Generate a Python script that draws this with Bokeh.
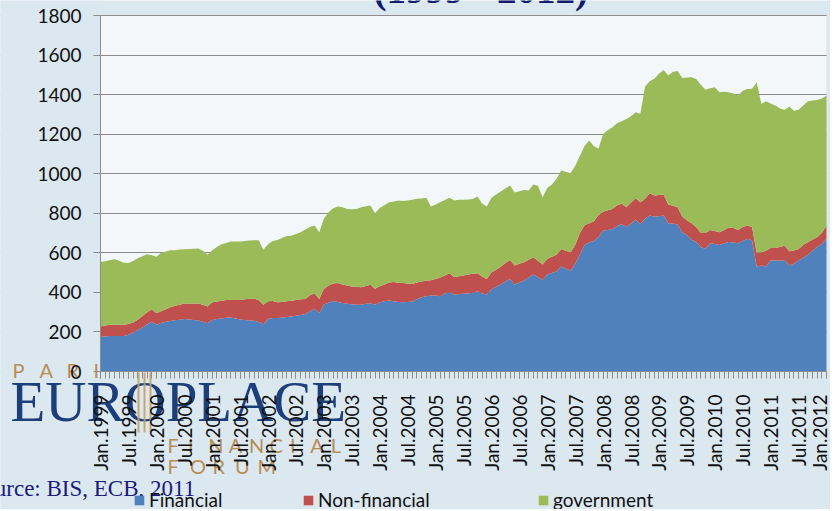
import math
from bokeh.plotting import figure
from bokeh.models import (ColumnDataSource, FixedTicker, Legend, LegendItem,
                          Label, BoxAnnotation, Range1d)
from bokeh.embed import file_html
from bokeh.resources import INLINE

# ---------------- data (monthly, Jan.1999 .. Jan.2012) ----------------
tick_labels = ["Jan.1999", "Jul.1999", "Jan.2000", "Jul.2000", "Jan.2001", "Jul.2001",
               "Jan.2002", "Jul.2002", "Jan.2003", "Jul.2003", "Jan.2004", "Jul.2004",
               "Jan.2005", "Jul.2005", "Jan.2006", "Jul.2006", "Jan.2007", "Jul.2007",
               "Jan.2008", "Jul.2008", "Jan.2009", "Jul.2009", "Jan.2010", "Jul.2010",
               "Jan.2011", "Jul.2011", "Jan.2012"]
x_ticks = [0, 6, 12, 18, 24, 30, 36, 42, 48, 54, 60, 66, 72, 78, 84, 90, 96, 102,
           108, 114, 120, 126, 132, 138, 144, 150, 156]
y_ticks = [0, 200, 400, 600, 800, 1000, 1200, 1400, 1600, 1800]

financial = [
    175, 177, 180, 180, 180, 180, 186, 197, 210, 222, 238, 251,
    236, 245, 251, 255, 259, 262, 265, 263, 260, 258, 252, 244,
    260, 265, 268, 272, 273, 268, 263, 260, 258, 256, 250, 239,
    265, 270, 271, 272, 275, 278, 282, 286, 291, 305, 317, 295,
    339, 348, 356, 352, 346, 342, 340, 338, 337, 342, 345, 337,
    350, 355, 359, 355, 352, 350, 352, 354, 365, 376, 380, 384,
    384, 381, 395, 401, 388, 392, 393, 395, 398, 406, 395, 389,
    415, 428, 440, 455, 468, 440, 450, 460, 475, 490, 478, 463,
    490, 498, 505, 531, 520, 511, 545, 590, 640, 652, 660, 680,
    713, 716, 720, 735, 746, 730, 748, 767, 746, 772, 789, 783,
    785, 789, 750, 748, 743, 704, 690, 666, 655, 630, 620, 649,
    645, 640, 648, 655, 652, 649, 660, 671, 662, 530, 536, 531,
    561, 561, 560, 564, 536, 545, 561, 575, 590, 610, 629, 645,
    671]
non_financial = [
    52, 55, 56, 56, 56, 56, 54, 51, 52, 59, 62, 64,
    59, 60, 64, 70, 73, 76, 79, 81, 84, 86, 86, 85,
    90, 89, 90, 90, 89, 93, 99, 105, 110, 113, 110, 98,
    90, 87, 79, 80, 80, 80, 80, 79, 76, 80, 79, 72,
    79, 87, 89, 95, 94, 93, 90, 90, 89, 90, 93, 81,
    81, 85, 91, 97, 97, 97, 93, 89, 85, 79, 80, 78,
    84, 94, 90, 96, 89, 90, 92, 95, 96, 91, 85, 79,
    85, 87, 90, 93, 96, 96, 95, 93, 90, 88, 82, 78,
    80, 82, 85, 89, 90, 92, 95, 110, 100, 98, 100, 110,
    95, 99, 102, 105, 102, 101, 107, 109, 110, 101, 112, 107,
    108, 106, 94, 90, 88, 80, 75, 84, 75, 70, 80, 67,
    65, 64, 67, 73, 73, 67, 70, 67, 68, 70, 67, 79,
    64, 64, 70, 73, 72, 67, 59, 65, 64, 58, 50, 55,
    67]
government = [
    327, 326, 327, 332, 324, 314, 308, 311, 311, 302, 293, 273,
    285, 295, 292, 288, 281, 279, 274, 276, 277, 278, 272, 261,
    263, 276, 286, 288, 295, 296, 295, 295, 294, 295, 304, 278,
    289, 303, 315, 323, 330, 329, 333, 339, 351, 345, 342, 337,
    354, 370, 380, 387, 390, 387, 390, 394, 404, 403, 401, 382,
    396, 400, 406, 408, 415, 415, 419, 425, 423, 420, 418, 372,
    377, 381, 382, 381, 387, 386, 383, 380, 378, 388, 370, 366,
    378, 380, 380, 377, 376, 369, 367, 365, 350, 367, 379, 340,
    358, 365, 385, 396, 400, 400, 400, 390, 400, 418, 380, 336,
    393, 405, 413, 415, 417, 446, 435, 435, 447, 567, 567, 590,
    612, 630, 652, 677, 689, 700, 721, 738, 749, 750, 724, 716,
    727, 708, 699, 684, 680, 679, 690, 691, 700, 863, 750, 757,
    730, 720, 700, 686, 732, 707, 703, 705, 713, 702, 694, 680,
    657]
months = list(range(len(financial)))

series_names = ["Financial", "Non-financial", "government"]
series_colors = ["#4f81bd", "#c0504d", "#9bbb59"]

source = ColumnDataSource(dict(month=months, financial=financial,
                               non_financial=non_financial, government=government))

# ---------------- geometry: the frame fills the whole canvas ----------------
W, H = 830, 509
PLOT_L, PLOT_R, PLOT_T, PLOT_B = 100, 826, 15, 371       # plot area in pixels
PX_PER_X = (PLOT_R - PLOT_L) / (months[-1] - months[0])
PX_PER_Y = (PLOT_B - PLOT_T) / (y_ticks[-1] - y_ticks[0])


def dx(px):
    return (px - PLOT_L) / PX_PER_X


def dy(py):
    return (PLOT_B - py) / PX_PER_Y


p = figure(width=W, height=H, output_backend="svg", toolbar_location=None,
           x_range=Range1d(dx(0), dx(W)), y_range=Range1d(dy(H), dy(0)),
           min_border=0, min_border_left=0, min_border_right=0,
           min_border_top=0, min_border_bottom=0)
p.outline_line_color = None
border_col = "#dce8f0"
p.background_fill_color = border_col
p.border_fill_color = border_col

# plot-area background and grid masks
p.add_layout(BoxAnnotation(left=0, right=156, bottom=0, top=1800,
                           fill_color="#f3f7fa", fill_alpha=1, line_color=None,
                           level="image"))
p.xgrid.visible = False
p.ygrid.grid_line_color = "#8c8c8c"
p.ygrid.grid_line_width = 1
p.add_layout(BoxAnnotation(left=dx(-20), right=0, fill_color=border_col, fill_alpha=1,
                           line_color=None, level="underlay"))
p.add_layout(BoxAnnotation(left=156, right=dx(W + 20), fill_color=border_col, fill_alpha=1,
                           line_color=None, level="underlay"))

# stacked areas
renderers = p.varea_stack(stackers=["financial", "non_financial", "government"],
                          x="month", color=series_colors, source=source)

# ---------------- decorations ----------------
navy = "#1c3f7c"
tan = "#b98c55"


def deco_label(px, py, text, font, size, color, style="normal"):
    p.add_layout(Label(x=dx(px), y=dy(py), text=text, text_font=font, text_font_size=size,
                       text_color=color, text_font_style=style,
                       text_baseline="middle", text_align="left"))


deco_label(373, -11, "(1999 - 2012)", "Liberation Serif", "39px", "#111c6e", "bold")
for i, ch in enumerate("PARI"):
    deco_label(12 + i * 27, 369.5, ch, "Lato", "20px", tan)
deco_label(10, 401, "EUROPLACE", "Liberation Serif", "57px", navy)
for i, ch in enumerate("FINANCIAL"):
    deco_label(167 + i * 20.4, 444.5, ch, "Lato", "20px", tan)
for i, ch in enumerate("FORUM"):
    deco_label(167 + i * 22.5, 465, ch, "Lato", "20px", tan)
for lx in (137, 143, 149):
    p.add_layout(BoxAnnotation(left=dx(lx), right=dx(lx + 2), top=dy(372), bottom=dy(432),
                               fill_color="#c9a060", fill_alpha=0.9, line_color=None))
deco_label(-30, 487.5, "Source: BIS, ECB, 2011", "Liberation Serif", "23px", "#1a1a80")

# ---------------- axes (drawn at the chart's zero lines) ----------------
xa = p.xaxis[0]
xa.fixed_location = 0
xa.bounds = (months[0], months[-1])
xa.level = "overlay"
xa.ticker = FixedTicker(ticks=x_ticks, minor_ticks=months)
xa.major_label_overrides = {t: lab for t, lab in zip(x_ticks, tick_labels)}
xa.major_label_orientation = math.pi / 2
xa.major_tick_in = 0
xa.major_tick_out = 7
xa.minor_tick_in = 0
xa.minor_tick_out = 7
xa.axis_line_color = "#8c8c8c"
xa.major_tick_line_color = "#8c8c8c"
xa.minor_tick_line_color = "#8c8c8c"
xa.major_label_standoff = 16
xa.major_label_text_font = "Lato"
xa.major_label_text_font_size = "19px"
xa.major_label_text_color = "#111111"

ya = p.yaxis[0]
ya.fixed_location = 0
ya.bounds = (y_ticks[0], y_ticks[-1])
ya.level = "overlay"
ya.ticker = FixedTicker(ticks=y_ticks)
ya.major_tick_in = 0
ya.major_tick_out = 7
ya.minor_tick_line_color = None
ya.axis_line_color = "#8c8c8c"
ya.major_tick_line_color = "#8c8c8c"
ya.major_label_standoff = 12
ya.major_label_text_font = "Lato"
ya.major_label_text_font_size = "19px"
ya.major_label_text_color = "#111111"

# ---------------- legend (three separate items below the chart) ----------------
for name, r, vx in zip(series_names, renderers, (133, 302, 537)):
    leg = Legend(items=[LegendItem(label=name, renderers=[r])], location=(vx, -2),
                 orientation="horizontal", padding=0, margin=0, spacing=0,
                 border_line_color=None, background_fill_alpha=0,
                 glyph_width=12, glyph_height=12, label_standoff=4,
                 label_text_font="Lato", label_text_font_size="19px",
                 label_text_color="#111111", label_height=18)
    p.add_layout(leg, "center")

open("out.html", "w").write(file_html(p, INLINE))
